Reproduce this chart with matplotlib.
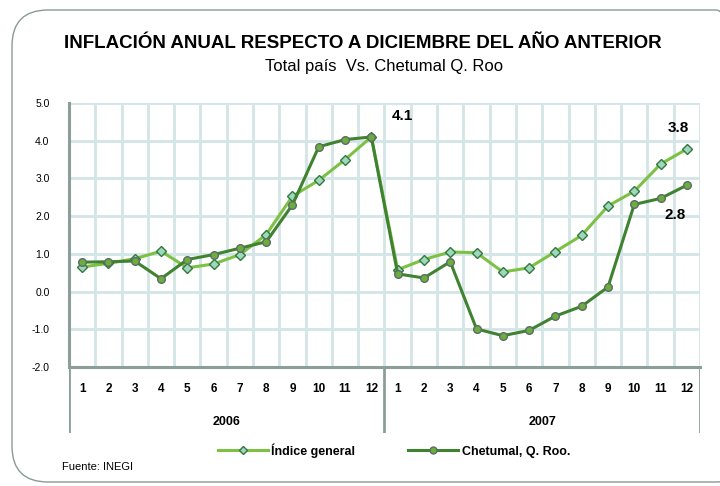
import matplotlib
matplotlib.use("Agg")
import matplotlib.pyplot as plt
from matplotlib.patches import FancyBboxPatch
from matplotlib.lines import Line2D
import numpy as np

plt.rcParams['font.family'] = ['Liberation Sans', 'DejaVu Sans']

# data
years = ["2006", "2007"]
months = [str(m) for m in range(1, 13)]
indice_general = [0.65, 0.75, 0.87, 1.07, 0.63, 0.73, 0.98, 1.51, 2.53, 2.95, 3.50, 4.10,
                  0.58, 0.85, 1.05, 1.03, 0.52, 0.63, 1.06, 1.49, 2.27, 2.66, 3.38, 3.78]
chetumal = [0.78, 0.79, 0.81, 0.34, 0.85, 0.98, 1.15, 1.32, 2.30, 3.84, 4.03, 4.10,
            0.47, 0.36, 0.79, -0.99, -1.17, -1.03, -0.65, -0.39, 0.12, 2.31, 2.47, 2.82]
y_ticks = [5.0, 4.0, 3.0, 2.0, 1.0, 0.0, -1.0, -2.0]

light = "#7cc144"
dark = "#3f8230"
grid_c = "#d3e5e6"
axis_c = "#8c9e97"

fig = plt.figure(figsize=(7.2, 4.86), dpi=100)

# rounded frame
frame = FancyBboxPatch((12/720, 4/486), 740/720, 472/486,
                       boxstyle="round,pad=0,rounding_size=0.05",
                       transform=fig.transFigure, fill=False,
                       edgecolor="#8a9a96", linewidth=1.0, mutation_aspect=720/486)
fig.patches.append(frame)

fig.text(363/720, 0.911, "INFLACIÓN ANUAL RESPECTO A DICIEMBRE DEL AÑO ANTERIOR",
         ha="center", va="center", fontsize=13.5, fontweight="bold")
fig.text(384/720, 0.864, "Total país  Vs. Chetumal Q. Roo",
         ha="center", va="center", fontsize=12)

ax = fig.add_axes([69/720, 1-367/486, 631/720, 264/486])
x = np.arange(len(indice_general))
ax.plot(x, indice_general, color=light, lw=2.2, marker="D", ms=5,
        mfc="#9fd6bd", mec="#2f7a3a", mew=1.0, zorder=3)
ax.plot(x, chetumal, color=dark, lw=2.2, marker="o", ms=5.5,
        mfc="#6cae3c", mec="#5d6b6a", mew=1.0, zorder=4)

ax.set_xlim(-0.5, len(x) - 0.5)
ax.set_ylim(-2, 5)
ax.set_xticks(np.arange(-0.5, len(x) + 0.5, 1.0))
ax.set_xticklabels([])
ax.set_yticks(y_ticks)
ax.set_yticklabels([f"{v:.1f}" for v in y_ticks], fontsize=7.5)
ax.tick_params(axis="both", length=0, pad=14)
ax.grid(True, color=grid_c, lw=2)
ax.set_axisbelow(True)
for s in ["top", "right"]:
    ax.spines[s].set_visible(False)
ax.spines["left"].set_color(axis_c)
ax.spines["left"].set_linewidth(2.2)
ax.spines["bottom"].set_color(axis_c)
ax.spines["bottom"].set_linewidth(2.2)

ax.annotate(f"{chetumal[11]:.1f}", (11, chetumal[11]), xytext=(15, 12),
            textcoords="offset points", fontsize=11, fontweight="bold")
ax.annotate(f"{indice_general[23]:.1f}", (23, indice_general[23]), xytext=(-14, 12),
            textcoords="offset points", fontsize=11, fontweight="bold")
ax.annotate(f"{chetumal[23]:.1f}", (23, chetumal[23]), xytext=(-16, -24),
            textcoords="offset points", fontsize=11, fontweight="bold")

# category axis below
cax = fig.add_axes([69/720, 1-433/486, 631/720, 66/486])
cax.set_xlim(-0.5, len(x) - 0.5)
cax.set_ylim(0, 1)
cax.axis("off")
for i in range(len(x)):
    cax.text(i, 0.67, months[i % 12], ha="center", va="center",
             fontsize=8.5, fontweight="bold")
for k, yr in enumerate(years):
    cax.text(k * 12 + 5.5, 0.16, yr, ha="center", va="center",
             fontsize=9, fontweight="bold")
for b in [-0.5, 11.5, 23.5]:
    cax.axvline(b, color=axis_c, lw=2)

# legend
handles = [Line2D([], [], color=light, lw=2.2, marker="D", ms=4.5,
                  mfc="#9fd6bd", mec="#2f7a3a"),
           Line2D([], [], color=dark, lw=2.2, marker="o", ms=5,
                  mfc="#6cae3c", mec="#5d6b6a")]
leg = fig.legend(handles, ["Índice general", "Chetumal, Q. Roo."],
                 loc="center", bbox_to_anchor=(0.547, 0.073), ncol=2,
                 frameon=False, handlelength=4.0, columnspacing=4.2,
                 handletextpad=0.3, prop={"size": 9, "weight": "bold"})

fig.text(62/720, 1-467/486, "Fuente: INEGI", ha="left", va="center", fontsize=8)

fig.savefig("out.png", dpi=100)
